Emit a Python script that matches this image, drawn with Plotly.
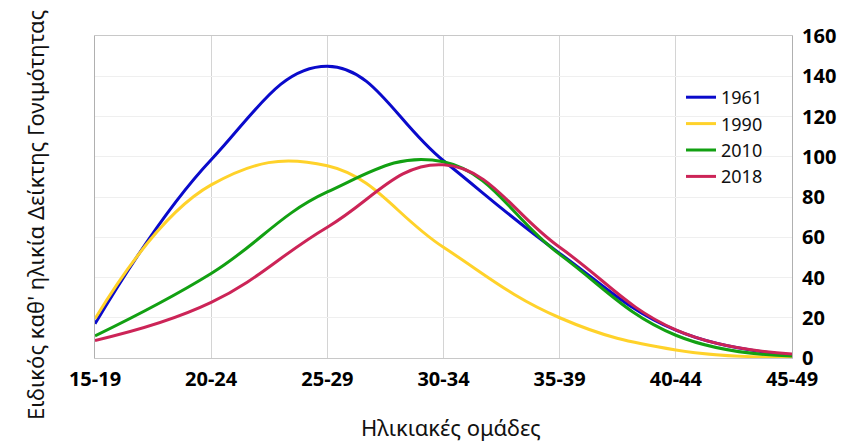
import plotly.graph_objects as go

age_groups = ["15-19", "20-24", "25-29", "30-34", "35-39", "40-44", "45-49"]
y1961 = [17, 98.5, 145, 98, 52, 13.8, 1.5]
y1990 = [19.5, 86, 95.5, 55, 20, 4, 0.5]
y2010 = [11, 42, 82.5, 97.5, 51.5, 11.3, 1]
y2018 = [8.7, 27.6, 65, 96, 55, 14, 2]

series = [
    ("1961", y1961, "#0A0ACB"),
    ("1990", y1990, "#FFD22A"),
    ("2010", y2010, "#12A012"),
    ("2018", y2018, "#CC2457"),
]

FONT = "Noto Sans"
OFF = 8  # page body margin
W, H = 856 - OFF, 448 - OFF
# target plot area in window pixels
X0, X1, Y0, Y1 = 95, 792, 36, 358
L, R, T, B = X0 - OFF, 856 - X1, Y0 - OFF, 448 - Y1
PW, PH = W - L - R, H - T - B

def px(xp):
    return (xp - OFF - L) / PW

def py(yp):
    return (H - B - (yp - OFF)) / PH

fig = go.Figure()
for name, ys, col in series:
    fig.add_trace(go.Scatter(
        x=list(range(len(age_groups))), y=ys, name=name, mode="lines",
        line=dict(color=col, width=3, shape="spline", smoothing=1.2),
    ))

fig.update_layout(
    width=W, height=H,
    margin=dict(l=L, r=R, t=T, b=B, autoexpand=False),
    paper_bgcolor="white", plot_bgcolor="white",
    font=dict(family=FONT, color="#000000"),
    showlegend=True,
    legend=dict(x=px(681), y=py(79), xanchor="left", yanchor="top",
                font=dict(family=FONT, size=18, color="#111111"),
                bgcolor="rgba(0,0,0,0)", tracegroupgap=0),
    xaxis=dict(
        tickmode="array", tickvals=list(range(len(age_groups))), ticktext=age_groups,
        range=[0, 6], showgrid=True, gridcolor="#d4d4d4", gridwidth=1,
        showline=True, linecolor="#c8c8c8", mirror=True, zeroline=False,
        tickfont=dict(family=FONT, size=20, color="#000000", weight="bold"),
        ticks="", ticklabelstandoff=3,
    ),
    yaxis=dict(
        side="right", range=[0, 160], dtick=20, showgrid=True, gridcolor="#efefef",
        showline=True, linecolor="#b0b0b0", mirror=True, zeroline=False,
        tickfont=dict(family=FONT, size=20, color="#000000", weight="bold"),
        ticks="", ticklabelstandoff=5,
    ),
    annotations=[
        dict(
            text="Ειδικός καθ' ηλικία Δείκτης Γονιμότητας",
            xref="paper", yref="paper", x=px(35), y=py(215),
            xanchor="center", yanchor="middle", textangle=-90, showarrow=False,
            font=dict(family=FONT, size=22, color="#111111"),
        ),
        dict(
            text="Ηλικιακές ομάδες",
            xref="paper", yref="paper", x=px(451), y=py(427),
            xanchor="center", yanchor="middle", showarrow=False,
            font=dict(family=FONT, size=22, color="#111111"),
        ),
    ],
)

fig.write_html("out.html")
